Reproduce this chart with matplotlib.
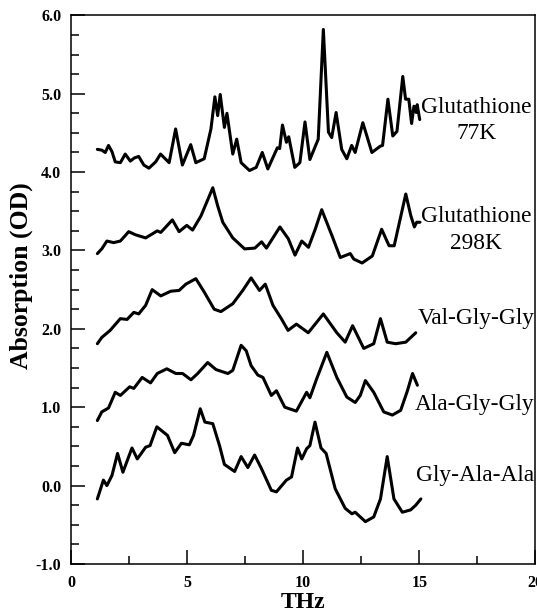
import matplotlib
matplotlib.use('Agg')
import matplotlib.pyplot as plt
from matplotlib.ticker import MultipleLocator, FormatStrFormatter

# spectra (THz, OD)
g77_x = [1.14, 1.33, 1.48, 1.62, 1.77, 1.91, 2.13, 2.34, 2.56, 2.73, 2.92, 3.14, 3.36, 3.65,
         3.86, 4.23, 4.51, 4.80, 5.16, 5.38, 5.74, 6.03, 6.20, 6.32, 6.43, 6.61, 6.72, 6.97,
         7.14, 7.33, 7.69, 7.98, 8.24, 8.48, 8.89, 8.99, 9.11, 9.28, 9.38, 9.64, 9.86, 10.08,
         10.29, 10.65, 10.87, 11.09, 11.23, 11.42, 11.66, 11.88, 12.09, 12.24, 12.57, 12.96,
         13.32, 13.42, 13.65, 13.86, 14.04, 14.29, 14.41, 14.55, 14.67, 14.77, 14.87, 14.91, 15.02]
g77_y = [4.29, 4.28, 4.25, 4.34, 4.26, 4.13, 4.12, 4.23, 4.14, 4.18, 4.20, 4.09, 4.05, 4.13,
         4.23, 4.12, 4.55, 4.09, 4.35, 4.12, 4.17, 4.55, 4.96, 4.72, 4.99, 4.57, 4.75, 4.23,
         4.42, 4.12, 4.02, 4.06, 4.25, 4.04, 4.31, 4.30, 4.60, 4.38, 4.45, 4.06, 4.12, 4.64,
         4.16, 4.42, 5.82, 4.51, 4.44, 4.76, 4.29, 4.17, 4.34, 4.25, 4.63, 4.25,
         4.33, 4.34, 4.93, 4.46, 4.52, 5.22, 4.93, 4.93, 4.62, 4.84, 4.76, 4.86, 4.67]

g298_x = [1.14, 1.33, 1.55, 1.84, 2.13, 2.49, 2.78, 3.22, 3.72, 3.87, 4.37, 4.66, 4.99, 5.24,
          5.60, 6.11, 6.32, 6.54, 6.97, 7.19, 7.48, 7.92, 8.21, 8.42, 9.00, 9.36, 9.65, 9.94,
          10.23, 10.52, 10.80, 11.24, 11.60, 12.03, 12.18, 12.54, 12.98, 13.38, 13.70, 13.92,
          14.42, 14.64, 14.79, 14.89, 15.03]
g298_y = [2.96, 3.02, 3.12, 3.10, 3.12, 3.24, 3.20, 3.16, 3.25, 3.23, 3.39, 3.24, 3.32, 3.26,
          3.44, 3.80, 3.57, 3.36, 3.16, 3.10, 3.02, 3.03, 3.11, 3.03, 3.30, 3.15, 2.94, 3.12,
          3.04, 3.27, 3.52, 3.19, 2.91, 2.96, 2.89, 2.84, 2.93, 3.27, 3.06, 3.06,
          3.72, 3.44, 3.30, 3.36, 3.36]

vgg_x = [1.14, 1.33, 1.69, 2.13, 2.42, 2.71, 2.92, 3.22, 3.50, 3.87, 4.30, 4.66, 4.95, 5.38,
         5.74, 6.17, 6.46, 6.97, 7.40, 7.76, 8.12, 8.37, 8.70, 9.06, 9.35, 9.71, 10.22, 10.87,
         11.45, 11.81, 12.13, 12.61, 13.04, 13.33, 13.62, 13.98, 14.42, 14.85]
vgg_y = [1.81, 1.89, 1.98, 2.13, 2.12, 2.21, 2.19, 2.30, 2.50, 2.42, 2.48, 2.49, 2.57, 2.64,
         2.47, 2.25, 2.22, 2.32, 2.49, 2.65, 2.49, 2.57, 2.30, 2.13, 1.98, 2.06, 1.95, 2.19,
         1.95, 1.83, 2.04, 1.75, 1.81, 2.13, 1.83, 1.81, 1.83, 1.95]

agg_x = [1.14, 1.33, 1.62, 1.91, 2.13, 2.53, 2.71, 3.07, 3.43, 3.72, 4.13, 4.52, 4.81, 5.17,
         5.46, 5.89, 6.25, 6.76, 6.97, 7.33, 7.55, 7.76, 8.05, 8.27, 8.63, 8.85, 9.21, 9.71,
         10.15, 10.29, 10.58, 11.02, 11.45, 11.88, 12.24, 12.46, 12.68, 13.04, 13.47, 13.84,
         14.20, 14.49, 14.71, 14.92]
agg_y = [0.83, 0.94, 0.99, 1.19, 1.15, 1.26, 1.24, 1.38, 1.31, 1.43, 1.49, 1.43, 1.43, 1.35,
         1.43, 1.57, 1.48, 1.43, 1.47, 1.79, 1.72, 1.53, 1.41, 1.38, 1.15, 1.21, 1.00, 0.95,
         1.19, 1.12, 1.36, 1.70, 1.38, 1.13, 1.06, 1.15, 1.34, 1.19, 0.94, 0.90,
         0.96, 1.21, 1.43, 1.28]

gaa_x = [1.14, 1.40, 1.55, 1.77, 2.01, 2.24, 2.63, 2.86, 3.22, 3.41, 3.70, 4.16, 4.47, 4.76,
         5.10, 5.28, 5.57, 5.77, 6.11, 6.40, 6.61, 7.05, 7.33, 7.62, 7.91, 8.20, 8.63, 8.85,
         9.28, 9.50, 9.76, 9.94, 10.15, 10.29, 10.51, 10.77, 10.99, 11.38, 11.81, 12.10, 12.24,
         12.68, 13.04, 13.33, 13.62, 13.91, 14.27, 14.63, 14.85, 15.07]
gaa_y = [-0.17, 0.07, 0.00, 0.13, 0.41, 0.17, 0.48, 0.34, 0.49, 0.51, 0.75, 0.64, 0.42, 0.54,
         0.52, 0.64, 0.98, 0.81, 0.79, 0.51, 0.27, 0.18, 0.37, 0.23, 0.39, 0.22, -0.06, -0.08,
         0.07, 0.11, 0.48, 0.34, 0.47, 0.51, 0.81, 0.48, 0.41, -0.04, -0.29, -0.36, -0.34,
         -0.46, -0.40, -0.17, 0.37, -0.17, -0.34, -0.31, -0.25, -0.17]

series = [(g77_x, g77_y), (g298_x, g298_y), (vgg_x, vgg_y), (agg_x, agg_y), (gaa_x, gaa_y)]

# label text and anchor (x, y) in data units
labels = ['Glutathione\n77K', 'Glutathione\n298K', 'Val-Gly-Gly', 'Ala-Gly-Gly', 'Gly-Ala-Ala']
label_pos = [(17.46, 4.66), (17.46, 3.26), (17.44, 2.13), (17.4, 1.04), (17.4, 0.13)]

serif = ['Liberation Serif', 'DejaVu Serif']

fig = plt.figure(figsize=(5.37, 6.13), dpi=100)
ax = fig.add_axes([0.132, 0.080, 0.865, 0.895])

for xs, ys in series:
    ax.plot(xs, ys, color='black', lw=2.2, solid_joinstyle='round', solid_capstyle='round')

for txt, (lx, ly) in zip(labels, label_pos):
    ax.text(lx, ly, txt, ha='center', va='center', fontsize=16.8, family=serif,
            linespacing=1.35)

ax.set_xlim(0, 20)
ax.set_ylim(-1.0, 6.0)
ax.xaxis.set_major_locator(MultipleLocator(5))
ax.xaxis.set_minor_locator(MultipleLocator(2.5))
ax.yaxis.set_major_locator(MultipleLocator(1.0))
ax.yaxis.set_minor_locator(MultipleLocator(0.25))
ax.yaxis.set_major_formatter(FormatStrFormatter('%.1f'))

ax.tick_params(which='both', direction='in', top=False, right=False, width=1.1)
ax.tick_params(which='major', length=10, labelsize=11.5)
ax.tick_params(axis='x', which='major', pad=8)
ax.tick_params(axis='y', which='major', pad=7)
ax.tick_params(which='minor', length=5.5)
for lab in ax.get_xticklabels() + ax.get_yticklabels():
    lab.set_family(serif)
    lab.set_fontweight('bold')

for sp in ax.spines.values():
    sp.set_linewidth(1.1)

ax.set_xlabel('THz', family=serif, fontweight='bold', fontsize=17)
ax.set_ylabel('Absorption (OD)', family=serif, fontweight='bold', fontsize=18.5)
ax.xaxis.set_label_coords(0.5, -0.052)
ax.yaxis.set_label_coords(-0.082, 0.525)

fig.savefig('out.png', dpi=100)
